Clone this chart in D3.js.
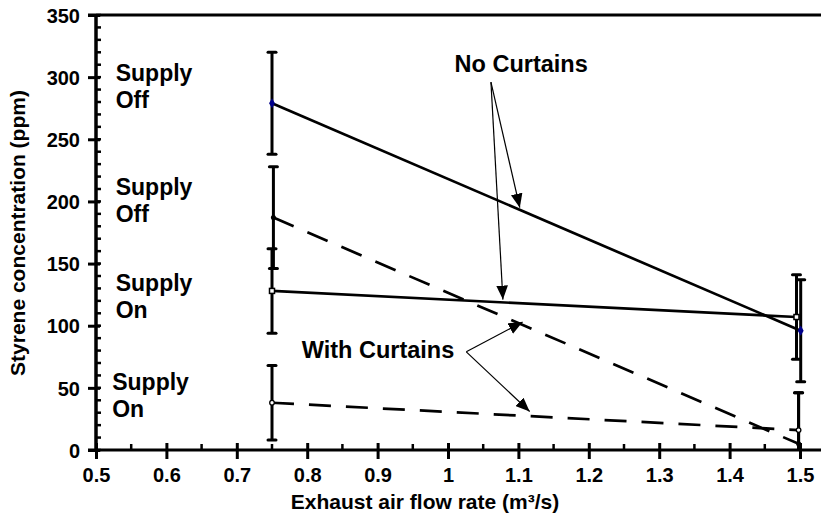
<!DOCTYPE html>
<html>
<head>
<meta charset="utf-8">
<script src="https://cdn.jsdelivr.net/npm/d3@7"></script>
<style>
  body { margin: 0; background: #fff; }
  text { font-family: Arial, "Liberation Sans", sans-serif; font-weight: bold; fill: #000; }
</style>
</head>
<body>
<svg id="chart" width="821" height="517"></svg>
<script>
// values
const xTicks = [0.5, 0.6, 0.7, 0.8, 0.9, 1, 1.1, 1.2, 1.3, 1.4, 1.5];
const xMinor = [0.55, 0.65, 0.75, 0.85, 0.95, 1.05, 1.15, 1.25, 1.35, 1.45];
const yTicks = [0, 50, 100, 150, 200, 250, 300, 350];
const yMinor = d3.range(0, 351, 10);

// exhaust flow rate per series (tiny offsets as drawn)
const flowNoCurtOff = [0.75, 1.501];
const flowNoCurtOn = [0.75, 1.495];
const flowCurtOff = [0.752, 1.498];
const flowCurtOn = [0.75, 1.498];

// styrene concentration (ppm) and error half-width
const noCurtOff = [279, 96];
const noCurtOffErr = [41, 41];
const noCurtOn = [128, 107];
const noCurtOnErr = [34, 34];
const curtOff = [187, 5];
const curtOffErr = [41, 41];
const curtOn = [38, 16];
const curtOnErr = [30, 30];

const series = [
  {name: "noCurtOff", x: flowNoCurtOff, y: noCurtOff, e: noCurtOffErr, dash: null, marker: "diamond"},
  {name: "noCurtOn", x: flowNoCurtOn, y: noCurtOn, e: noCurtOnErr, dash: null, marker: "square"},
  {name: "curtOff", x: flowCurtOff, y: curtOff, e: curtOffErr, dash: "22,15", marker: "dot"},
  {name: "curtOn", x: flowCurtOn, y: curtOn, e: curtOnErr, dash: "22,15", marker: "circle"}
];

// side labels: [x, y, line1, line2]
const sideLabels = [
  [0.528, 296.5, "Supply", "Off"],
  [0.528, 205, "Supply", "Off"],
  [0.528, 128, "Supply", "On"],
  [0.523, 48, "Supply", "On"]
];

// annotation arrows: from -> to (data units)
const noCurtFrom = [1.061, 296];
const noCurtTo = [[1.102, 195], [1.078, 121]];
const withCurtFrom = [1.026, 79];
const withCurtTo = [[1.106, 103], [1.116, 31]];

const svg = d3.select("#chart");
const W = 821, H = 517;

const x = d3.scaleLinear().domain([0.5, 1.5]).range([96, 800]);
const y = d3.scaleLinear().domain([0, 350]).range([450, 15]).clamp(true);

// arrowhead
svg.append("defs").append("marker")
    .attr("id", "arrow")
    .attr("markerUnits", "userSpaceOnUse")
    .attr("viewBox", "0 0 12 10")
    .attr("refX", 12).attr("refY", 5)
    .attr("markerWidth", 14).attr("markerHeight", 12)
    .attr("orient", "auto")
  .append("path")
    .attr("d", "M0,0 L12,5 L0,10 Z")
    .attr("fill", "#000");

// top border and axis lines
svg.append("line")
    .attr("x1", 88).attr("x2", W)
    .attr("y1", y(350)).attr("y2", y(350))
    .attr("stroke", "#000").attr("stroke-width", 3);

svg.append("line")
    .attr("x1", 88).attr("x2", W)
    .attr("y1", y(0)).attr("y2", y(0))
    .attr("stroke", "#000").attr("stroke-width", 3);

svg.append("line")
    .attr("x1", x(0.5)).attr("x2", x(0.5))
    .attr("y1", y(350)).attr("y2", y(0) + 1)
    .attr("stroke", "#000").attr("stroke-width", 3.5);

// minor ticks
svg.append("g").selectAll("line")
    .data(yMinor)
    .join("line")
    .attr("x1", x(0.5)).attr("x2", x(0.5) + 5)
    .attr("y1", d => y(d)).attr("y2", d => y(d))
    .attr("stroke", "#000").attr("stroke-width", 2.5);

svg.append("g").selectAll("line")
    .data(xMinor)
    .join("line")
    .attr("x1", d => x(d)).attr("x2", d => x(d))
    .attr("y1", y(0) - 6).attr("y2", y(0))
    .attr("stroke", "#000").attr("stroke-width", 2.5);

// y axis
const yAxis = svg.append("g")
    .attr("transform", `translate(${x(0.5)},0)`)
    .call(d3.axisLeft(y).tickValues(yTicks).tickSize(8).tickPadding(8));
yAxis.select(".domain").remove();
yAxis.selectAll(".tick line").attr("x1", 4).attr("x2", -8).attr("stroke-width", 3);
yAxis.selectAll(".tick text").style("font-size", "20px").attr("dy", "0.36em");

// x axis
const xAxis = svg.append("g")
    .attr("transform", `translate(0,${y(0)})`)
    .call(d3.axisBottom(x).tickValues(xTicks).tickSize(9).tickPadding(9).tickFormat(d3.format("~g")));
xAxis.select(".domain").remove();
xAxis.selectAll(".tick line").attr("y1", -7).attr("y2", 9).attr("stroke-width", 3);
xAxis.selectAll(".tick text").style("font-size", "20px");

// axis titles
svg.append("text")
    .attr("x", 425).attr("y", 509)
    .attr("text-anchor", "middle")
    .style("font-size", "21px")
    .text("Exhaust air flow rate (m³/s)");

svg.append("text")
    .attr("transform", "translate(25,233) rotate(-90)")
    .attr("text-anchor", "middle")
    .style("font-size", "21px")
    .text("Styrene concentration (ppm)");

// error bars
series.forEach(s => {
  const g = svg.append("g").attr("class", "err-" + s.name);
  s.y.forEach((v, i) => {
    const cx = x(s.x[i]);
    const hi = y(v + s.e[i]);
    const lo = y(v - s.e[i]);
    g.append("line")
        .attr("x1", cx).attr("x2", cx).attr("y1", hi).attr("y2", lo)
        .attr("stroke", "#000").attr("stroke-width", 3);
    [hi, lo].forEach(cy => {
      if (v - s.e[i] < 0 && cy === lo) return;
      g.append("line")
          .attr("x1", cx - 4).attr("x2", cx + 4).attr("y1", cy).attr("y2", cy)
          .attr("stroke", "#000").attr("stroke-width", 3)
          .attr("stroke-linecap", "round");
    });
  });
});

// series lines
const line = d3.line().x(d => x(d[0])).y(d => y(d[1]));
series.forEach(s => {
  svg.append("path")
      .datum(s.x.map((v, i) => [v, s.y[i]]))
      .attr("d", line)
      .attr("fill", "none")
      .attr("stroke", "#000")
      .attr("stroke-width", 2.7)
      .attr("stroke-dasharray", s.dash);
});

// markers
series.forEach(s => {
  const pts = s.x.map((v, i) => [v, s.y[i]]);
  const g = svg.append("g");
  if (s.marker === "diamond") {
    g.selectAll("path").data(pts).join("path")
        .attr("d", d3.symbol(d3.symbolDiamond, 30))
        .attr("transform", d => `translate(${x(d[0])},${y(d[1])})`)
        .attr("fill", "#00008b");
  } else if (s.marker === "square") {
    g.selectAll("rect").data(pts).join("rect")
        .attr("x", d => x(d[0]) - 2.5).attr("y", d => y(d[1]) - 2.5)
        .attr("width", 5).attr("height", 5)
        .attr("fill", "#fff").attr("stroke", "#000").attr("stroke-width", 1.5);
  } else if (s.marker === "dot") {
    g.selectAll("circle").data(pts).join("circle")
        .attr("cx", d => x(d[0])).attr("cy", d => y(d[1]))
        .attr("r", 2.5)
        .attr("fill", "#000");
  } else {
    g.selectAll("circle").data(pts).join("circle")
        .attr("cx", d => x(d[0])).attr("cy", d => y(d[1]))
        .attr("r", 2.3)
        .attr("fill", "#fff").attr("stroke", "#000").attr("stroke-width", 1.3);
  }
});

// side labels
sideLabels.forEach(l => {
  const t = svg.append("text")
      .attr("x", x(l[0])).attr("y", y(l[1]))
      .style("font-size", "23px");
  t.append("tspan").attr("x", x(l[0])).text(l[2]);
  t.append("tspan").attr("x", x(l[0])).attr("dy", 27).text(l[3]);
});

// annotations
svg.append("text")
    .attr("x", x(1.104)).attr("y", y(304))
    .attr("text-anchor", "middle")
    .style("font-size", "23.5px")
    .text("No Curtains");

svg.append("text")
    .attr("x", x(0.9006)).attr("y", y(74))
    .attr("text-anchor", "middle")
    .style("font-size", "23.5px")
    .text("With Curtains");

[[noCurtFrom, noCurtTo], [withCurtFrom, withCurtTo]].forEach(([from, tos]) => {
  tos.forEach(to => {
    svg.append("line")
        .attr("x1", x(from[0])).attr("y1", y(from[1]))
        .attr("x2", x(to[0])).attr("y2", y(to[1]))
        .attr("stroke", "#000").attr("stroke-width", 1.2)
        .attr("marker-end", "url(#arrow)");
  });
});
</script>
</body>
</html>
